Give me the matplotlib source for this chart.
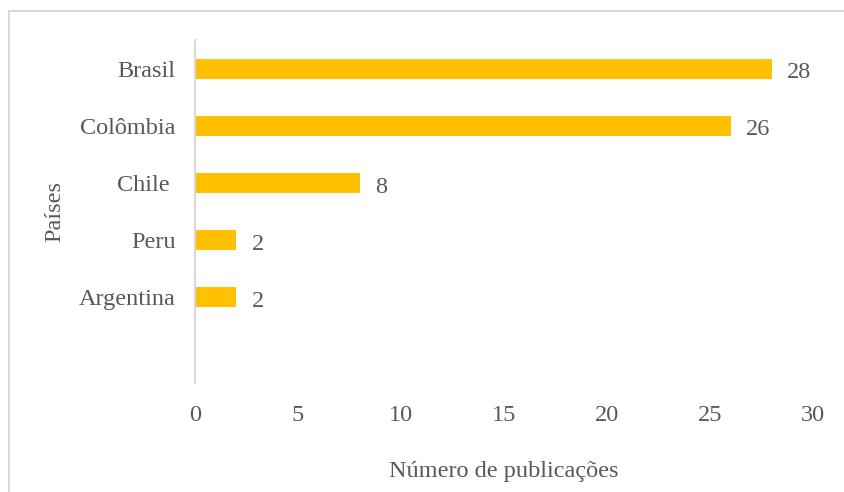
import numpy as np
import matplotlib.pyplot as plt
from matplotlib.patches import Rectangle

# data (top to bottom)
paises = ['Brasil', 'Colômbia', 'Chile ', 'Peru', 'Argentina']
publicacoes = [28, 26, 8, 2, 2]
x_ticks = [0, 5, 10, 15, 20, 25, 30]

bar_color = '#FFC000'
text_color = '#595959'

plt.rcParams['font.family'] = ['Liberation Serif', 'DejaVu Serif']
plt.rcParams['font.size'] = 17.5

fig = plt.figure(figsize=(8.45, 4.92), dpi=100)
ax = fig.add_axes([195 / 845, 1 - 383 / 492, 618 / 845, 343 / 492])

y = np.arange(len(paises))
ax.barh(y, publicacoes, height=0.35, color=bar_color)
for yi, v in zip(y, publicacoes):
    ax.annotate(str(v), (v, yi), xytext=(11, -3), textcoords='offset points',
                ha='left', va='center', color=text_color)

ax.set_xlim(0, 30)
ax.set_ylim(len(paises) + 0.5, -0.5)  # one empty slot below Argentina
ax.set_yticks(y)
ax.set_yticklabels(paises)
ax.set_xticks(x_ticks)

for side in ['top', 'right', 'bottom']:
    ax.spines[side].set_visible(False)
ax.spines['left'].set_color('#D9D9D9')
ax.spines['left'].set_linewidth(1.5)

ax.tick_params(axis='both', length=0, colors=text_color, labelsize=17.5)
ax.tick_params(axis='y', pad=14)
ax.tick_params(axis='x', pad=16)

ax.set_xlabel('Número de publicações', color=text_color, labelpad=25)
ax.set_ylabel('Países', color=text_color, labelpad=10)

# chart border (runs off the right and bottom edges in the reference)
fig.patches.append(Rectangle((9 / 845, -0.05), 1.0, 1 - 11 / 492 + 0.05,
                             transform=fig.transFigure, fill=False,
                             edgecolor='#D9D9D9', linewidth=1.5))

fig.savefig('out.png', dpi=100)
